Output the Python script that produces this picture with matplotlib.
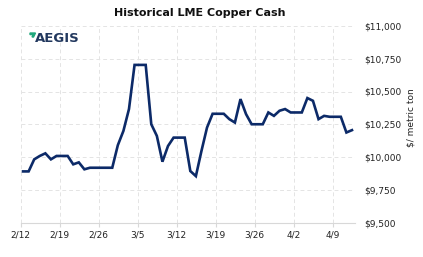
import matplotlib
matplotlib.use("Agg")
import matplotlib.pyplot as plt
from matplotlib.patches import Polygon
import pandas as pd

# Data: LME copper cash, daily (weekends carried forward), 2022-02-12 .. 2022-04-12
start_date = "2022-02-12"
prices = [9890, 9890, 9982, 10008, 10028, 9982, 10008, 10008, 10008, 9944,
          9959, 9906, 9918, 9918, 9918, 9918, 9918, 10090, 10199, 10366,
          10703, 10703, 10703, 10250, 10161, 9964, 10084, 10148, 10148, 10148,
          9893, 9854, 10046, 10225, 10330, 10330, 10330, 10289, 10263, 10442,
          10327, 10250, 10250, 10250, 10340, 10314, 10353, 10366, 10340, 10340,
          10340, 10450, 10429, 10289, 10314, 10307, 10307, 10307, 10187, 10205]
x_tick_labels = ["2/12", "2/19", "2/26", "3/5", "3/12", "3/19", "3/26", "4/2", "4/9"]
y_ticks = [9500, 9750, 10000, 10250, 10500, 10750, 11000]

dates = pd.date_range(start_date, periods=len(prices), freq="D") + pd.Timedelta(hours=11)
tick_dates = pd.date_range(start_date, periods=len(x_tick_labels), freq="7D")

W, H = 423, 257
fig = plt.figure(figsize=(W / 100, H / 100), dpi=100)
ax = fig.add_axes([20.5 / W, 1 - 222.5 / H, (355 - 20.5) / W, (222.5 - 26) / H])

ax.plot(dates, prices, color="#0c2a68", lw=1.9, solid_joinstyle="miter", zorder=3, clip_on=False)

ax.set_xlim(pd.Timestamp(start_date), pd.Timestamp(start_date) + pd.Timedelta(days=60))
ax.set_ylim(9500, 11000)
ax.set_xticks(tick_dates)
ax.set_xticklabels(x_tick_labels, fontsize=6.5, color="#222222")
ax.set_yticks(y_ticks)
ax.set_yticklabels(["${:,}".format(v) for v in y_ticks], fontsize=6.5, color="#222222")
ax.yaxis.tick_right()
ax.tick_params(axis="y", length=0, pad=7)
ax.tick_params(axis="x", length=3, color="#d8d8d8", pad=3)

for s in ["left", "right", "top"]:
    ax.spines[s].set_visible(False)
ax.spines["bottom"].set_color("#d8d8d8")
ax.spines["bottom"].set_linewidth(0.8)

ax.grid(True, color="#e4e4e4", linestyle=(0, (4, 3)), linewidth=0.7, zorder=0)
ax.set_axisbelow(True)

ax.yaxis.set_label_position("right")
ax.set_ylabel("$/ metric ton", fontsize=6.5, color="#222222", labelpad=3)
ax.yaxis.label.set_y(0.535)

fig.text(200 / W, 1 - 13 / H, "Historical LME Copper Cash", ha="center", va="center",
         fontsize=8, fontweight="bold", color="#111111")

# Logo
fig.text(34.5 / W, 1 - 38.5 / H, "AEGIS", ha="left", va="center", fontsize=9.5,
         fontweight="bold", color="#22385e")
logo_pts = [[30, 33], [35.5, 33], [33.5, 37], [32, 37], [33.2, 34.6], [30, 34.6]]
logo = Polygon([[px / W, 1 - py / H] for px, py in logo_pts],
               closed=True, transform=fig.transFigure, color="#1fa77c", zorder=5)
fig.patches.append(logo)

fig.savefig("out.png", dpi=100)
